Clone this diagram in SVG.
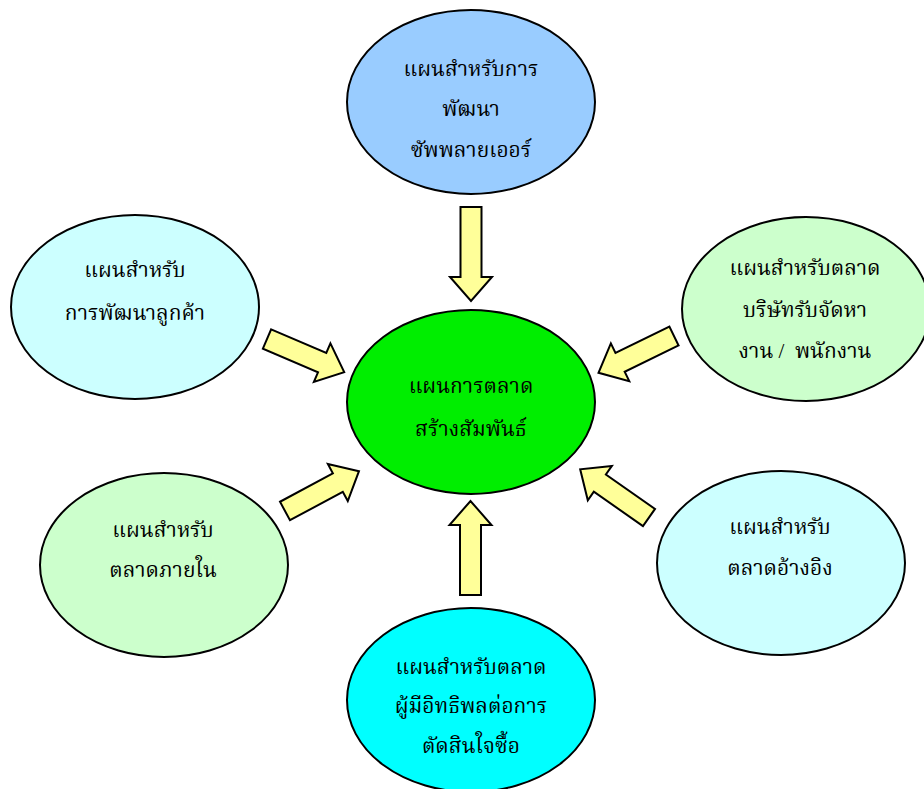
<svg xmlns="http://www.w3.org/2000/svg" xmlns:xlink="http://www.w3.org/1999/xlink" width="924" height="789" viewBox="0 0 924 789">
  <style>
    .node ellipse { stroke: #000; stroke-width: 2; }
    .node text { font-family: "Liberation Serif", "Noto Serif Thai", "Noto Sans", "DejaVu Serif", serif; font-size: 21px; fill: #000; text-anchor: middle; }
    .arrow { fill: #ffff99; stroke: #000; stroke-width: 2; stroke-linejoin: miter; }
  </style>
  <defs>
    <!-- block arrows pointing along +x, tail at origin -->
    <polygon id="blk84" points="0,-10.5 60,-10.5 60,-21 84,0 60,21 60,10.5 0,10.5"/>
    <polygon id="blk94" points="0,-10.5 70,-10.5 70,-21 94,0 70,21 70,10.5 0,10.5"/>
  </defs>

  <g id="node-software" class="node">
    <ellipse cx="471" cy="102" rx="124" ry="92" fill="#99ccff"/>
    <text x="471" y="76">แผนสำหรับการ</text>
    <text x="471" y="116">พัฒนา</text>
    <text x="471" y="157">ซัพพลายเออร์</text>
  </g>

  <g id="node-center" class="node">
    <ellipse cx="471" cy="402" rx="124" ry="92" fill="#00ee00"/>
    <text x="471" y="393">แผนการตลาด</text>
    <text x="471" y="436">สร้างสัมพันธ์</text>
  </g>

  <g id="node-influencer" class="node">
    <ellipse cx="471" cy="700" rx="124" ry="92" fill="#00ffff"/>
    <text x="471" y="674">แผนสำหรับตลาด</text>
    <text x="471" y="713">ผู้มีอิทธิพลต่อการ</text>
    <text x="471" y="753">ตัดสินใจซื้อ</text>
  </g>

  <g id="node-customer" class="node">
    <ellipse cx="135" cy="307" rx="124" ry="92" fill="#ccffff"/>
    <text x="135" y="277">แผนสำหรับ</text>
    <text x="135" y="320">การพัฒนาลูกค้า</text>
  </g>

  <g id="node-recruit" class="node">
    <ellipse cx="806" cy="309" rx="124" ry="92" fill="#ccffcc"/>
    <text x="805" y="275">แผนสำหรับตลาด</text>
    <text x="805" y="317">บริษัทรับจัดหา</text>
    <text x="805" y="358" xml:space="preserve">งาน /  พนักงาน</text>
  </g>

  <g id="node-internal" class="node">
    <ellipse cx="164" cy="565" rx="124" ry="92" fill="#ccffcc"/>
    <text x="163" y="537">แผนสำหรับ</text>
    <text x="163" y="577">ตลาดภายใน</text>
  </g>

  <g id="node-referral" class="node">
    <ellipse cx="781" cy="563" rx="124" ry="92" fill="#ccffff"/>
    <text x="780" y="534">แผนสำหรับ</text>
    <text x="780" y="575">ตลาดอ้างอิง</text>
  </g>

  <g id="connectors">
    <use xlink:href="#blk94" class="arrow" transform="translate(471,207) rotate(90)"/>
    <use xlink:href="#blk94" class="arrow" transform="translate(470.5,595) rotate(-90)"/>
    <use xlink:href="#blk84" class="arrow" transform="translate(267,339) rotate(23.2)"/>
    <use xlink:href="#blk84" class="arrow" transform="translate(674,336) rotate(154)"/>
    <use xlink:href="#blk84" class="arrow" transform="translate(285,511) rotate(-28.3)"/>
    <use xlink:href="#blk84" class="arrow" transform="translate(649,517.5) rotate(215)"/>
  </g>
</svg>
